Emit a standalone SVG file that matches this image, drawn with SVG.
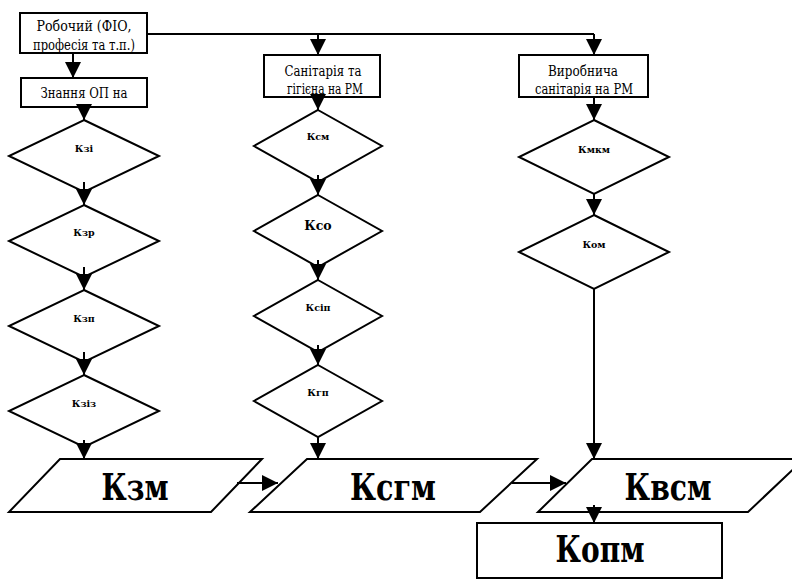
<svg xmlns="http://www.w3.org/2000/svg" width="792" height="580" viewBox="0 0 792 580">
<style>
.box{fill:#fff;stroke:#000;stroke-width:2}
.dia{fill:#fff;stroke:#000;stroke-width:2}
.ln{fill:none;stroke:#000;stroke-width:2}
text{font-family:'DejaVu Serif','Liberation Serif',serif;fill:#000;text-anchor:middle}
.t{font-size:14px}
.k{font-size:9.5px;font-weight:bold}
.big{font-size:37px;font-weight:bold}
</style>
<defs>
<marker id="ah" markerUnits="userSpaceOnUse" markerWidth="16" markerHeight="16" refX="16" refY="8" orient="auto" viewBox="0 0 16 16">
<path d="M0,0 L16,8 L0,16 z" fill="#000"/>
</marker>
<clipPath id="c1"><rect x="21" y="14" width="125" height="38"/></clipPath>
<clipPath id="c2"><rect x="265" y="56" width="114" height="40"/></clipPath>
<clipPath id="c3"><rect x="520" y="56" width="127" height="40"/></clipPath>
</defs>
<rect width="792" height="580" fill="#fff"/>

<g id="n-robochyi">
<rect class="box" x="20" y="13" width="127" height="40"/>
<g clip-path="url(#c1)">
<text class="t" x="84" y="31" textLength="95" lengthAdjust="spacingAndGlyphs">Робочий (ФІО,</text>
<text class="t" x="84" y="50" textLength="102" lengthAdjust="spacingAndGlyphs">професія та т.п.)</text>
</g>
</g>
<g id="n-znannia">
<rect class="box" x="21" y="78" width="126" height="29"/>
<text class="t" x="84" y="98" textLength="87" lengthAdjust="spacingAndGlyphs">Знання ОП на</text>
</g>
<g id="n-sanitaria">
<rect class="box" x="264" y="55" width="116" height="42"/>
<g clip-path="url(#c2)">
<text class="t" x="323" y="76" textLength="77" lengthAdjust="spacingAndGlyphs">Санітарія та</text>
<text class="t" x="325" y="94" textLength="76" lengthAdjust="spacingAndGlyphs">гігієна на РМ</text>
</g>
</g>
<g id="n-vyrobnycha">
<rect class="box" x="519" y="55" width="129" height="42"/>
<g clip-path="url(#c3)">
<text class="t" x="583" y="76" textLength="70" lengthAdjust="spacingAndGlyphs">Виробнича</text>
<text class="t" x="584" y="94" textLength="98" lengthAdjust="spacingAndGlyphs">санітарія на РМ</text>
</g>
</g>

<g id="n-kzi"><polygon class="dia" points="84,120 159,156 84,192 9,156"/><text class="k" x="84" y="152">Кзі</text></g>
<g id="n-kzr"><polygon class="dia" points="84,205 159,241 84,277 9,241"/><text class="k" x="84" y="236">Кзр</text></g>
<g id="n-kzp"><polygon class="dia" points="84,290 159,326 84,362 9,326"/><text class="k" x="84" y="322">Кзп</text></g>
<g id="n-kziz"><polygon class="dia" points="84,375 159,411 84,447 9,411"/><text class="k" x="84" y="407">Кзіз</text></g>

<g id="n-ksm"><polygon class="dia" points="318,110 382,146 318,182 254,146"/><text class="k" x="318" y="140">Ксм</text></g>
<g id="n-kso"><polygon class="dia" points="318,195 382,231 318,267 254,231"/><text class="k" x="318" y="230" style="font-size:12.5px">Ксо</text></g>
<g id="n-ksip"><polygon class="dia" points="318,280 382,316 318,352 254,316"/><text class="k" x="318" y="311">Ксіп</text></g>
<g id="n-kgp"><polygon class="dia" points="318,365 382,401 318,437 254,401"/><text class="k" x="318" y="396">Кгп</text></g>

<g id="n-kmkm"><polygon class="dia" points="594,120 669,157 594,194 519,157"/><text class="k" x="594" y="153">Кмкм</text></g>
<g id="n-kom"><polygon class="dia" points="594,215 669,252 594,289 519,252"/><text class="k" x="594" y="248">Ком</text></g>

<g id="n-kzm"><polygon class="box" points="60,459 262,459 211,512 9,512"/><text class="big" x="135" y="500" textLength="67" lengthAdjust="spacingAndGlyphs">Кзм</text></g>
<g id="n-ksgm"><polygon class="box" points="307,459 537,459 480,512 250,512"/><text class="big" x="393" y="500" textLength="86" lengthAdjust="spacingAndGlyphs">Ксгм</text></g>
<g id="n-kvsm"><polygon class="box" points="592,459 804,459 748,512 538,512"/><text class="big" x="668" y="500" textLength="87" lengthAdjust="spacingAndGlyphs">Квсм</text></g>
<g id="n-kopm"><rect class="box" x="477" y="523" width="245" height="55"/><text class="big" x="600" y="562" textLength="89" lengthAdjust="spacingAndGlyphs">Копм</text></g>

<g id="connectors">
<path class="ln" d="M147,34 H594"/>
<path class="ln" d="M318,34 V55" marker-end="url(#ah)"/>
<path class="ln" d="M594,34 V55" marker-end="url(#ah)"/>
<path class="ln" d="M73,53 V78" marker-end="url(#ah)"/>
<path class="ln" d="M84,107 V120" marker-end="url(#ah)"/>
<path class="ln" d="M84,182 V205" marker-end="url(#ah)"/>
<path class="ln" d="M84,267 V290" marker-end="url(#ah)"/>
<path class="ln" d="M84,352 V375" marker-end="url(#ah)"/>
<path class="ln" d="M84,440 V459" marker-end="url(#ah)"/>
<path class="ln" d="M318,95 V110" marker-end="url(#ah)"/>
<path class="ln" d="M318,175 V195" marker-end="url(#ah)"/>
<path class="ln" d="M318,260 V280" marker-end="url(#ah)"/>
<path class="ln" d="M318,345 V365" marker-end="url(#ah)"/>
<path class="ln" d="M318,437 V459" marker-end="url(#ah)"/>
<path class="ln" d="M594,97 V120" marker-end="url(#ah)"/>
<path class="ln" d="M594,194 V215" marker-end="url(#ah)"/>
<path class="ln" d="M594,289 V459" marker-end="url(#ah)"/>
<path class="ln" d="M237,483 H278" marker-end="url(#ah)"/>
<path class="ln" d="M512,483 H566" marker-end="url(#ah)"/>
<path class="ln" d="M594,505 V523" marker-end="url(#ah)"/>
</g>
</svg>
